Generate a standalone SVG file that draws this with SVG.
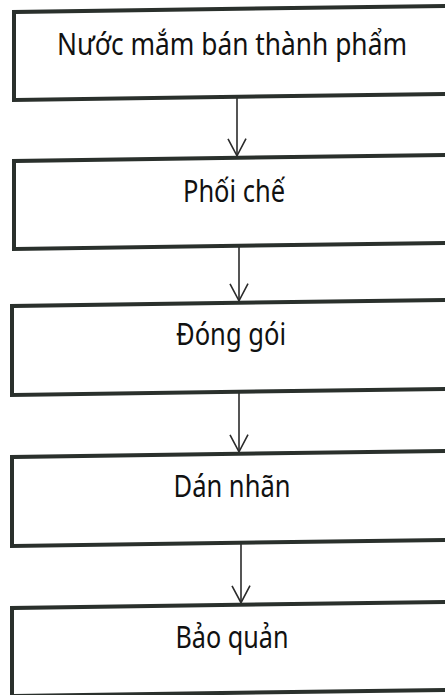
<svg xmlns="http://www.w3.org/2000/svg" width="445" height="695" viewBox="0 0 445 695">
  <defs>
    <style>
      .box { fill: #ffffff; stroke: #2a302c; stroke-width: 4; }
      .lbl { font-family: "Noto Sans", "Open Sans", "DejaVu Sans", sans-serif; font-size: 30px; fill: #111111; text-anchor: middle; }
      .conn { fill: none; stroke: #2b2b2b; stroke-width: 1.6; }
      .head { fill: none; stroke: #2b2b2b; stroke-width: 1.6; stroke-linejoin: miter; }
    </style>
  </defs>
  <rect x="0" y="0" width="445" height="695" fill="#ffffff"/>
  <g transform="translate(222,0) skewY(-0.8) translate(-222,0)">
    <g id="connectors">
      <line class="conn" x1="237" y1="98" x2="237" y2="156"/>
      <polyline class="head" points="228,139 237,156 246,139"/>
      <line class="conn" x1="239" y1="247" x2="239" y2="301"/>
      <polyline class="head" points="230,284 239,301 248,284"/>
      <line class="conn" x1="239" y1="393" x2="239" y2="452"/>
      <polyline class="head" points="230,435 239,452 248,435"/>
      <line class="conn" x1="241" y1="544" x2="241" y2="603"/>
      <polyline class="head" points="232,586 241,603 250,586"/>
    </g>
    <g id="node1">
      <rect class="box" x="14" y="9" width="433" height="88"/>
    </g>
    <g id="node2">
      <rect class="box" x="14" y="158" width="433" height="88"/>
    </g>
    <g id="node3">
      <rect class="box" x="12" y="303" width="435" height="89"/>
    </g>
    <g id="node4">
      <rect class="box" x="12" y="454" width="435" height="89"/>
    </g>
    <g id="node5">
      <rect class="box" x="12" y="605" width="435" height="88"/>
    </g>
  </g>
  <g id="labels">
    <text class="lbl" x="232" y="55" textLength="350" lengthAdjust="spacingAndGlyphs">Nước mắm bán thành phẩm</text>
    <text class="lbl" x="234" y="202" textLength="102" lengthAdjust="spacingAndGlyphs">Phối chế</text>
    <text class="lbl" x="231" y="345" textLength="110" lengthAdjust="spacingAndGlyphs">Đóng gói</text>
    <text class="lbl" x="232" y="497" textLength="117" lengthAdjust="spacingAndGlyphs">Dán nhãn</text>
    <text class="lbl" x="232" y="648" textLength="113" lengthAdjust="spacingAndGlyphs">Bảo quản</text>
  </g>
</svg>
